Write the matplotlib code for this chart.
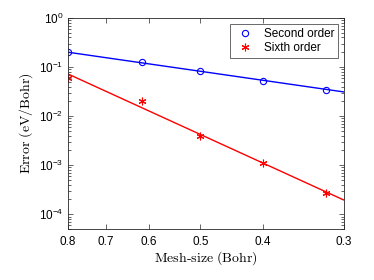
import matplotlib
matplotlib.use("Agg")
import matplotlib.pyplot as plt
from matplotlib.ticker import FixedLocator, NullLocator, LogLocator, FixedFormatter

plt.rcParams['mathtext.fontset'] = 'cm'

# mesh sizes (Bohr) and errors (eV/Bohr)
mesh = [0.8, 0.615, 0.5, 0.4, 0.32]
err_second = [0.202, 0.128, 0.083, 0.052, 0.034]
err_sixth = [0.060, 0.0205, 0.0040, 0.00112, 0.00027]

# fitted lines, end points over the x range
fit_x = [0.8, 0.3]
fit_second = [0.20, 0.031]
fit_sixth = [0.072, 0.000194]

xticks = [0.8, 0.7, 0.6, 0.5, 0.4, 0.3]
xticklabels = ['0.8', '0.7', '0.6', '0.5', '0.4', '0.3']

fig = plt.figure(figsize=(3.74, 2.80), dpi=100)
ax = fig.add_axes([0.182, 0.182, 0.738, 0.754])

ax.plot(fit_x, fit_second, color='blue', lw=1.0)
ax.plot(fit_x, fit_sixth, color='red', lw=1.0)
ax.plot(mesh, err_second, linestyle='none', marker='o', ms=4.5, mfc='none',
        mec='blue', mew=0.8, label='Second order')
ax.plot(mesh, err_sixth, linestyle='none', marker=(6, 2, 0), ms=5.5,
        mec='red', mew=0.8, label='Sixth order')

ax.set_xscale('log')
ax.set_yscale('log')
ax.set_xlim(0.8, 0.3)
ax.set_ylim(5e-5, 1)

ax.xaxis.set_major_locator(FixedLocator(xticks))
ax.xaxis.set_major_formatter(FixedFormatter(xticklabels))
ax.xaxis.set_minor_locator(NullLocator())
ax.yaxis.set_major_locator(LogLocator(base=10, numticks=10))
ax.yaxis.set_minor_locator(LogLocator(base=10, subs=range(2, 10), numticks=10))

grey = '#262626'
for s in ax.spines.values():
    s.set_color(grey)
    s.set_linewidth(0.6)
ax.tick_params(which='both', direction='in', top=True, right=True,
               colors=grey, labelcolor='black', labelsize=8.5, width=0.5)
ax.tick_params(which='major', length=3.5)
ax.tick_params(which='minor', length=2)
ax.tick_params(axis='x', pad=5)
for lab in ax.get_xticklabels() + ax.get_yticklabels():
    lab.set_family('Liberation Sans')

ax.set_xlabel(r'$\mathrm{Mesh\text{-}size\ (Bohr)}$', fontsize=10, labelpad=1)
ax.set_ylabel(r'$\mathrm{Error\ (eV/Bohr)}$', fontsize=10, labelpad=3)

leg = ax.legend(loc='upper right', frameon=True, fancybox=False,
                borderpad=0.35, handletextpad=0.7, labelspacing=0.2,
                handlelength=1.8, borderaxespad=0.5,
                prop={'family': 'Liberation Sans', 'size': 8.5})
leg.get_frame().set_edgecolor(grey)
leg.get_frame().set_linewidth(0.6)

fig.savefig('out.png', dpi=100)
